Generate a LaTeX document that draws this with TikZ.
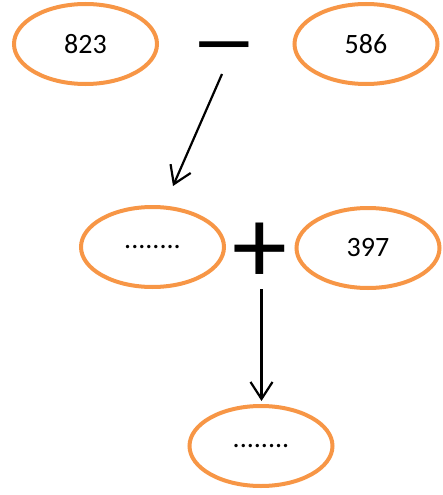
\documentclass[tikz,border=0pt]{standalone}
\usepackage{fontspec}
\setmainfont{Carlito}
\usetikzlibrary{arrows.meta,shapes.geometric}
\definecolor{ora}{HTML}{F79646}
\tikzset{
  oval/.style={draw=ora, line width=4pt, ellipse, minimum width=143pt, minimum height=80pt, inner sep=0pt, font=\fontsize{28}{30}\selectfont},
  opsign/.style={inner sep=0pt, font=\fontsize{110}{110}\selectfont},
  arr/.style={line width=2.2pt, -{Straight Barb[length=17pt,width=22pt,line width=2.2pt]}}
}
\begin{document}
\begin{tikzpicture}[x=1pt,y=-1pt]
\useasboundingbox (0,0) rectangle (443,495);
\node[oval] (a) at (85.5,44) {823};
\node[oval] (b) at (366,44) {586};
\node[opsign, xscale=1.2, yscale=0.8] (m) at (224.5,57) {−};
\node[oval] (c) at (152.5,247) {........};
\node[opsign] (p) at (259.5,253) {+};
\node[oval] (d) at (368,248) {397};
\node[oval] (e) at (261,446) {........};
\coordinate (s1) at (222,74);
\coordinate (t1) at (173,186);
\coordinate (s2) at (261.5,289);
\coordinate (t2) at (261.5,401);
\draw[arr] (s1) -- (t1);
\draw[arr] (s2) -- (t2);
\end{tikzpicture}
\end{document}
